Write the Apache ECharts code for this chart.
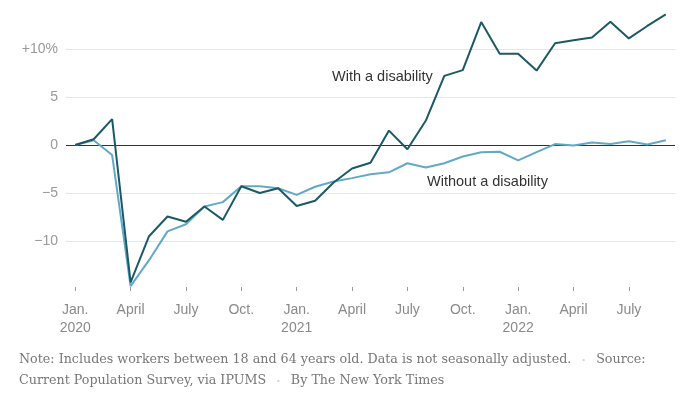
<!DOCTYPE html>
<html>
<head>
<meta charset="utf-8">
<script src="https://cdn.jsdelivr.net/npm/echarts@6/dist/echarts.min.js"></script>
<style>
  html, body { margin: 0; padding: 0; background: #fff; }
  #main { width: 686px; height: 396px; }
</style>
</head>
<body>
<div id="main"></div>
<script>
  // months Jan 2020 .. Sep 2022
  const months = [
    '2020-01', '2020-02', '2020-03', '2020-04', '2020-05', '2020-06',
    '2020-07', '2020-08', '2020-09', '2020-10', '2020-11', '2020-12',
    '2021-01', '2021-02', '2021-03', '2021-04', '2021-05', '2021-06',
    '2021-07', '2021-08', '2021-09', '2021-10', '2021-11', '2021-12',
    '2022-01', '2022-02', '2022-03', '2022-04', '2022-05', '2022-06',
    '2022-07', '2022-08', '2022-09'
  ]
  // % change in employment since Jan 2020
  const withDisability = [
    0, 0.6, 2.7, -14.3, -9.5, -7.45, -8.0, -6.4, -7.8, -4.3, -5.0, -4.5,
    -6.35, -5.8, -3.9, -2.45, -1.85, 1.5, -0.45, 2.55, 7.2, 7.8, 12.8, 9.5,
    9.5, 7.75, 10.6, 10.9, 11.2, 12.85, 11.1, 12.4, 13.6
  ]
  const withoutDisability = [
    0, 0.5, -1.05, -14.7, -12.0, -9.0, -8.25, -6.4, -5.95, -4.3, -4.3, -4.5,
    -5.2, -4.35, -3.8, -3.45, -3.05, -2.85, -1.9, -2.35, -1.9, -1.2, -0.75, -0.7,
    -1.6, -0.75, 0.1, -0.05, 0.25, 0.1, 0.4, 0.05, 0.5
  ]
  const monthNames = { '01': 'Jan.', '04': 'April', '07': 'July', '10': 'Oct.' }
  const yTickLabels = { '-10': '\u221210', '-5': '\u22125', '0': '0', '5': '5', '10': '+10%' }

  const chart = echarts.init(document.getElementById('main'), null, { renderer: 'canvas' })
  chart.setOption({
    animation: false,
    grid: { left: 66, right: 11, top: 1, bottom: 107 },
    xAxis: {
      type: 'category',
      data: months,
      boundaryGap: true,
      offset: -2,
      axisLine: { show: false, onZero: false },
      axisTick: {
        show: true,
        alignWithLabel: true,
        interval: 2,
        length: 4,
        lineStyle: { color: '#999' }
      },
      axisLabel: {
        interval: 2,
        margin: 14,
        fontFamily: 'Liberation Sans, sans-serif',
        fontSize: 14,
        lineHeight: 18,
        color: '#8a8a8a',
        formatter: (v) => {
          const [y, m] = v.split('-')
          return m === '01' ? monthNames[m] + '\n' + y : monthNames[m]
        }
      }
    },
    yAxis: {
      type: 'value',
      min: -15,
      max: 15,
      interval: 5,
      axisLine: { show: false },
      axisTick: { show: false },
      axisLabel: {
        margin: 8,
        fontFamily: 'Liberation Sans, sans-serif',
        fontSize: 14,
        color: '#999',
        formatter: (v) => yTickLabels[String(v)] || ''
      },
      splitLine: {
        show: true,
        lineStyle: {
          width: 1,
          color: ['rgba(0,0,0,0)', '#e6e6e6', '#e6e6e6', '#333', '#e6e6e6', '#e6e6e6', 'rgba(0,0,0,0)']
        }
      }
    },
    series: [
      {
        name: 'Without a disability',
        type: 'line',
        data: withoutDisability,
        symbol: 'none',
        lineStyle: { color: '#62a9c6', width: 2 }
      },
      {
        name: 'With a disability',
        type: 'line',
        data: withDisability,
        symbol: 'none',
        lineStyle: { color: '#1c5966', width: 2 }
      }
    ],
    graphic: [
      {
        type: 'text', left: 332, top: 69,
        style: { text: 'With a disability', fill: '#333', font: '14.5px "Liberation Sans", sans-serif' }
      },
      {
        type: 'text', left: 427, top: 174,
        style: { text: 'Without a disability', fill: '#333', font: '14.5px "Liberation Sans", sans-serif' }
      },
      {
        type: 'text', left: 19, top: 353,
        style: {
          text: 'Note: Includes workers between 18 and 64 years old. Data is not seasonally adjusted.{b|•}Source:',
          fill: '#777',
          font: '12.7px "DejaVu Serif", serif',
          rich: { b: { fill: '#d0d0d0', fontSize: 8, padding: [0, 11] } }
        }
      },
      {
        type: 'text', left: 19, top: 374,
        style: {
          text: 'Current Population Survey, via IPUMS{b|•}By The New York Times',
          fill: '#777',
          font: '12.7px "DejaVu Serif", serif',
          rich: { b: { fill: '#d0d0d0', fontSize: 8, padding: [0, 11] } }
        }
      }
    ]
  })
</script>
</body>
</html>
